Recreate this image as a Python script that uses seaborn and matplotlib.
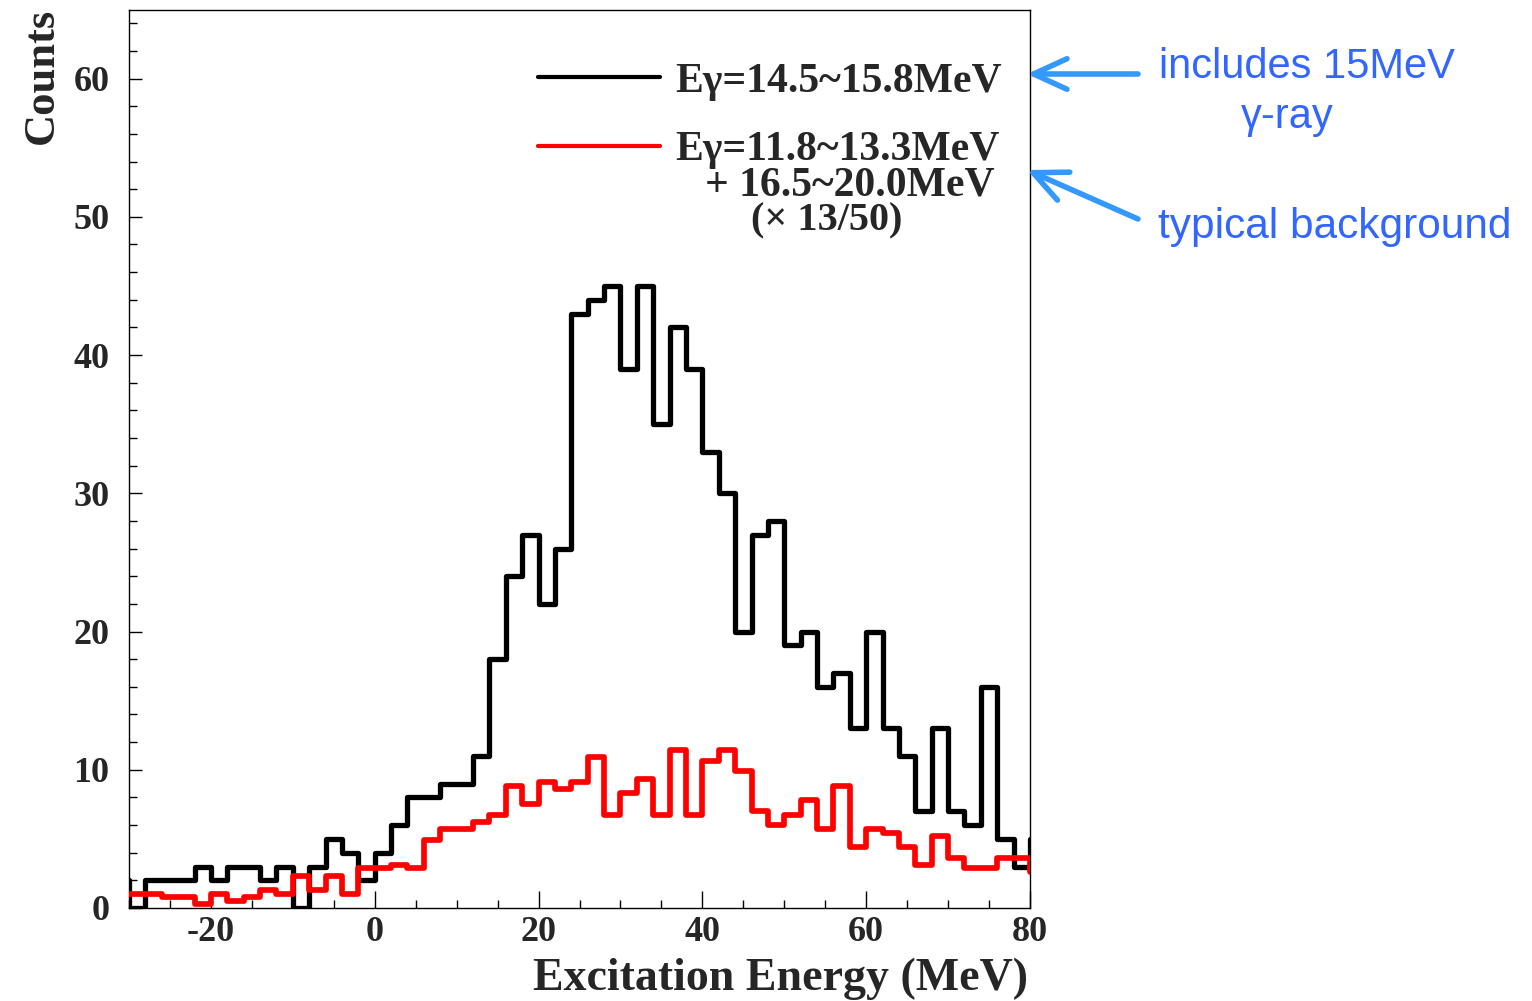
import numpy as np
import pandas as pd
import matplotlib
matplotlib.use("Agg")
import matplotlib.pyplot as plt
from matplotlib.lines import Line2D
from matplotlib.ticker import MultipleLocator
import seaborn as sns

# ---- data (2 MeV bins; first/last edges lie just outside the visible range) ----
bin_edges = [float(e) for e in range(-32, 84, 2)]          # -32 ... 82
bin_centers = [e + 1 for e in bin_edges[:-1]]

# E_gamma = 14.5~15.8 MeV (counts), bins -32 .. 80
signal_counts = [2,
                 0, 2, 2, 2, 3, 2, 3, 3, 2, 3,
                 0, 3, 5, 4, 2, 4, 6, 8, 8, 9,
                 9, 11, 18, 24, 27, 22, 26, 43, 44, 45,
                 39, 45, 35, 42, 39, 33, 30, 20, 27, 28,
                 19, 20, 16, 17, 13, 20, 13, 11, 7, 13,
                 7, 6, 16, 5, 3,
                 5]

# background windows scaled by 13/50, bins -32 .. 80
background_counts = [1.04,
                     1.04, 1.04, 0.78, 0.78, 0.26, 1.04, 0.52, 0.78, 1.30, 1.04,
                     2.34, 1.30, 2.34, 1.04, 2.86, 2.86, 3.12, 2.86, 4.94, 5.72,
                     5.72, 6.24, 6.76, 8.84, 7.54, 9.10, 8.58, 9.10, 10.92, 6.76,
                     8.32, 9.36, 6.76, 11.44, 6.76, 10.66, 11.44, 9.88, 7.02, 5.98,
                     6.76, 7.80, 5.72, 8.84, 4.42, 5.72, 5.46, 4.42, 3.12, 5.20,
                     3.64, 2.86, 2.86, 3.64, 3.64,
                     2.60]

x_ticks = [-20, 0, 20, 40, 60, 80]
y_ticks = [0, 10, 20, 30, 40, 50, 60]

legend_lines_signal = ["E\u03b3=14.5~15.8MeV"]
legend_lines_bg = ["E\u03b3=11.8~13.3MeV", "+ 16.5~20.0MeV", "(\u00d7 13/50)"]

df_sig = pd.DataFrame({"E": bin_centers, "w": signal_counts})
df_bg = pd.DataFrame({"E": bin_centers, "w": background_counts})

# ---- style ----
sns.set_style("ticks")
plt.rcParams["font.family"] = ["Liberation Serif", "DejaVu Serif"]
plt.rcParams["axes.unicode_minus"] = False

W, H = 1532, 1001
fig = plt.figure(figsize=(W / 100, H / 100), dpi=100)
ax = fig.add_axes([129 / W, (H - 908) / H, (1030 - 129) / W, (908 - 9.5) / H])

sns.histplot(data=df_sig, x="E", weights="w", bins=bin_edges, element="step",
             fill=False, color="black", linewidth=3.8, ax=ax, zorder=3)
sns.histplot(data=df_bg, x="E", weights="w", bins=bin_edges, element="step",
             fill=False, color="#ff0000", linewidth=4.1, ax=ax, zorder=4)

ax.set_xlim(-30, 80)
ax.set_ylim(0, 65)
ax.set_xlabel("")
ax.set_ylabel("")
ax.set_xticks(x_ticks)
ax.set_yticks(y_ticks)
ax.xaxis.set_minor_locator(MultipleLocator(5))
ax.yaxis.set_minor_locator(MultipleLocator(2))
ax.tick_params(axis="both", which="both", direction="in", top=False, right=False,
               width=1.0, color="black")
ax.tick_params(axis="x", which="major", length=12, pad=6)
ax.tick_params(axis="x", which="minor", length=6)
ax.tick_params(axis="y", which="major", length=9, pad=14)
ax.tick_params(axis="y", which="minor", length=6)
for lab in ax.get_xticklabels() + ax.get_yticklabels():
    lab.set_fontsize(26)
    lab.set_fontweight("bold")
for s in ax.spines.values():
    s.set_visible(True)
    s.set_linewidth(1.0)
    s.set_color("black")
ax.grid(False)


def fx(px):
    return px / W


def fy(py):
    return 1 - py / H


# axis titles
fig.text(fx(1028), fy(990), "Excitation Energy (MeV)", ha="right", va="baseline",
         fontsize=33, fontweight="bold")
fig.text(fx(53), fy(8), "Counts", rotation=90, rotation_mode="anchor",
         ha="right", va="baseline", fontsize=32, fontweight="bold")

# legend
fig.add_artist(Line2D([fx(538), fx(660)], [fy(77), fy(77)], color="black", lw=3.0))
fig.add_artist(Line2D([fx(538), fx(660)], [fy(146), fy(146)], color="#ff0000", lw=3.0))
fig.text(fx(1002), fy(92), legend_lines_signal[0], ha="right", va="baseline",
         fontsize=30, fontweight="bold")
fig.text(fx(1000), fy(160), legend_lines_bg[0], ha="right", va="baseline",
         fontsize=30, fontweight="bold")
fig.text(fx(995), fy(195), legend_lines_bg[1], ha="right", va="baseline",
         fontsize=30, fontweight="bold")
fig.text(fx(827), fy(230), legend_lines_bg[2], ha="center", va="baseline",
         fontsize=29, fontweight="bold")

# blue annotations
text_blue = "#3366ff"
arrow_blue = "#3399ff"
afont = ["Liberation Sans", "DejaVu Sans"]
fig.text(fx(1159), fy(78), "includes 15MeV", ha="left", va="baseline",
         fontsize=30, color=text_blue, family=afont)
fig.text(fx(1287), fy(128), "\u03b3-ray", ha="center", va="baseline",
         fontsize=30, color=text_blue, family=afont)
fig.text(fx(1158), fy(238), "typical background", ha="left", va="baseline",
         fontsize=30.5, color=text_blue, family=afont)

arrowprops = dict(arrowstyle="->,head_length=2.4,head_width=1.1", color=arrow_blue,
                  lw=4, shrinkA=0, shrinkB=0, mutation_scale=10,
                  capstyle="round", joinstyle="round")
ax.annotate("", xy=(fx(1027), fy(74)), xycoords="figure fraction",
            xytext=(fx(1138), fy(74)), textcoords="figure fraction",
            arrowprops=arrowprops, annotation_clip=False)
ax.annotate("", xy=(fx(1027), fy(170)), xycoords="figure fraction",
            xytext=(fx(1138), fy(219)), textcoords="figure fraction",
            arrowprops=arrowprops, annotation_clip=False)

fig.savefig("out.png", dpi=100)
